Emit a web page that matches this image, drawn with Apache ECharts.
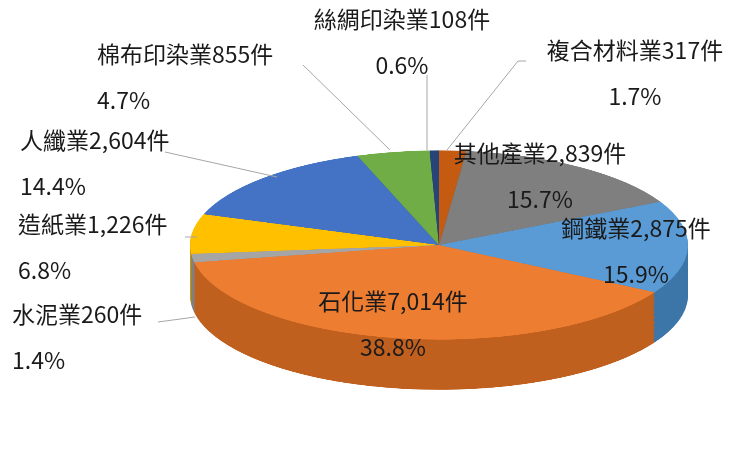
<!DOCTYPE html>
<html><head><meta charset="utf-8">
<script src="https://cdn.jsdelivr.net/npm/echarts@6/dist/echarts.min.js"></script>
<style>
body{margin:0;background:#fff;overflow:hidden}
#wrap{position:relative;width:742px;height:456px;overflow:hidden}
#a{position:absolute;left:0;top:0;width:742px;height:1200px;transform:scaleY(0.38);transform-origin:0 0}
#b{position:absolute;left:0;top:0;width:742px;height:456px}
</style></head><body>
<div id="wrap"><div id="a"></div><div id="b"></div></div>
<script>
const categories=['複合材料業','其他產業','鋼鐵業','石化業','水泥業','造紙業','人纖業','棉布印染業','絲綢印染業'];
const values=[317,2839,2875,7014,260,1226,2604,855,108];
const colors=['#c55a11','#7f7f7f','#5b9bd5','#ed7d31','#a5a5a5','#ffc000','#4472c4','#70ad47','#264478'];
const sideColors=['#93430d','#5f5f5f','#3d76a8','#c0601f','#808080','#c79600','#2f5597','#4e7a31','#1a2f54'];
// label placement (style): anchor x, middle y, alignment, connector line
const labelAnchor=[[635,73,'center'],[540,176,'center'],[636,251,'center'],[393,324,'center'],[12,337,'left'],[18,247,'left'],[20,163,'left'],[97,77,'left'],[402,42,'center']];
const connector=[[[447,150],[518,61],[526,61]],null,null,null,[[195,317],[158,322]],[[197,237],[185,237]],[[277,177],[165,152]],[[390,150],[303,65]],[[427,150],[427,75]]];
const K=0.38, CX=439, CY=245, R=249;

const ca=echarts.init(document.getElementById('a'));
const series=[];
const depth=132, steps=40;
for(let i=steps;i>=1;i--){
  series.push({type:'pie',silent:true,startAngle:90,clockwise:true,radius:[0,R],center:[CX,CY/K+depth*i/steps],
    label:{show:false},labelLine:{show:false},z:1,
    data:values.map((v,j)=>({value:v,name:categories[j],itemStyle:{color:sideColors[j]}}))});
}
series.push({type:'pie',silent:true,startAngle:90,clockwise:true,radius:[0,R],center:[CX,CY/K],
  label:{show:false},labelLine:{show:false},z:2,
  data:values.map((v,j)=>({value:v,name:categories[j],itemStyle:{color:colors[j]}}))});
ca.setOption({animation:false,series});

const cb=echarts.init(document.getElementById('b'));
cb.setOption({animation:false,series:[{type:'pie',startAngle:90,clockwise:true,radius:[0,R],center:[CX,CY],
  percentPrecision:1,avoidLabelOverlap:false,silent:true,
  itemStyle:{color:'rgba(0,0,0,0)'},
  label:{position:'outside',fontFamily:'Noto Sans CJK TC',fontSize:23,color:'#1a1a1a',lineHeight:46,
    formatter:p=>p.name+p.value.toLocaleString('en-US')+'件\n'+p.percent.toFixed(1)+'%'},
  labelLine:{show:true,lineStyle:{color:'#a6a6a6',width:1}},
  labelLayout:function(p){
    const i=p.dataIndex, a=labelAnchor[i];
    const o={x:a[0],y:a[1],align:a[2],verticalAlign:'middle',hideOverlap:false,moveOverlap:false};
    o.labelLinePoints=connector[i]||[[a[0],a[1]],[a[0],a[1]]];
    return o;
  },
  data:values.map((v,j)=>({value:v,name:categories[j],
    labelLine:{show:!!connector[j]},label:{align:labelAnchor[j][2]}}))
}]});
</script></body></html>
